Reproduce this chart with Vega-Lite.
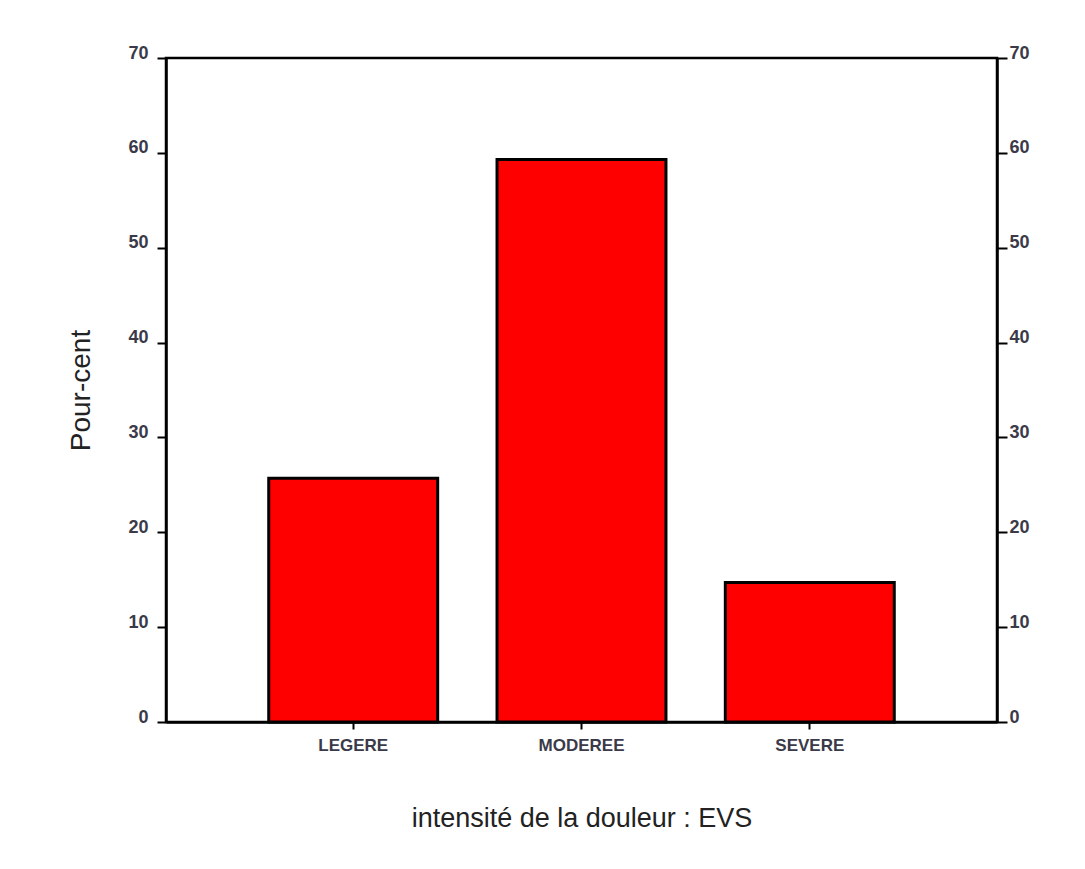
{
  "$schema": "https://vega.github.io/schema/vega-lite/v6.json",
  "autosize": "none",
  "width": 831,
  "height": 664,
  "padding": {"left": 166, "top": 58, "right": 88, "bottom": 147},
  "background": "white",
  "config": {
    "font": "Liberation Sans",
    "view": {"stroke": "black", "strokeWidth": 2.5},
    "axis": {
      "domainColor": "black",
      "domainWidth": 2.5,
      "tickColor": "black",
      "tickWidth": 2,
      "grid": false,
      "labelColor": "#3a3a48",
      "labelFont": "Liberation Sans",
      "labelFontWeight": "bold",
      "titleFont": "Liberation Sans",
      "titleColor": "#222222",
      "titleFontWeight": "normal"
    }
  },
  "data": {
    "values": [
      {"intensite": "LEGERE", "pct": 25.7},
      {"intensite": "MODEREE", "pct": 59.3},
      {"intensite": "SEVERE", "pct": 14.7}
    ]
  },
  "encoding": {
    "x": {
      "field": "intensite",
      "type": "nominal",
      "sort": null,
      "scale": {"paddingInner": 0.26, "paddingOuter": 0.45},
      "axis": {
        "title": "intensité de la douleur : EVS",
        "titleFontSize": 27,
        "titlePadding": 52,
        "labelAngle": 0,
        "labelFontSize": 17,
        "labelPadding": 8,
        "tickSize": 7
      }
    },
    "y": {
      "field": "pct",
      "type": "quantitative",
      "scale": {"domain": [0, 70], "nice": false},
      "axis": {
        "title": "Pour-cent",
        "titleFontSize": 28,
        "titlePadding": 32,
        "values": [0, 10, 20, 30, 40, 50, 60, 70],
        "labelFontSize": 18,
        "labelPadding": 9,
        "labelOffset": -5,
        "tickSize": 9
      }
    }
  },
  "layer": [
    {
      "mark": {"type": "bar", "fill": "#ff0000", "stroke": "black", "strokeWidth": 3}
    },
    {
      "mark": {"type": "bar", "opacity": 0},
      "encoding": {
        "y": {
          "field": "pct",
          "type": "quantitative",
          "axis": {
            "orient": "right",
            "title": null,
            "values": [0, 10, 20, 30, 40, 50, 60, 70],
            "labelFontSize": 18,
            "labelPadding": 2,
            "labelOffset": -5,
            "tickSize": 10
          }
        }
      }
    }
  ],
  "resolve": {"axis": {"y": "independent"}}
}
